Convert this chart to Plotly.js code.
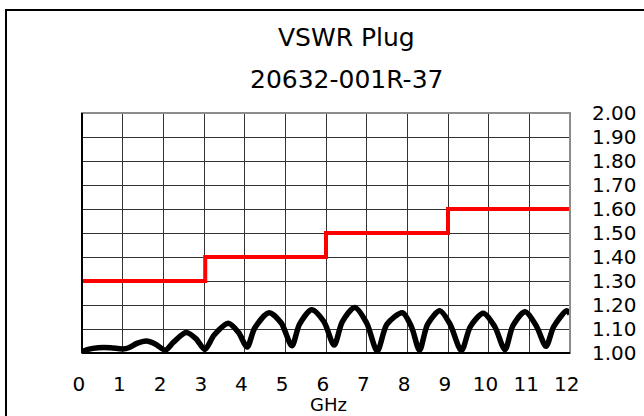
<!DOCTYPE html>
<html>
<head>
<meta charset="utf-8">
<script src="https://cdn.plot.ly/plotly-3.0.1.min.js"></script>
<style>
  html, body { margin: 0; padding: 0; background: #ffffff; width: 644px; height: 416px; overflow: hidden; }
  #frame { position: absolute; left: 5px; top: 9px; width: 700px; height: 500px;
           border-top: 2px solid #000; border-left: 2px solid #000; }
  #chart { position: absolute; left: 0; top: 0; width: 644px; height: 416px; }
</style>
</head>
<body>
<div id="frame"></div>
<div id="chart"></div>
<script>
// Title texts
const titleLine1 = "VSWR Plug";
const titleLine2 = "20632-001R-37";
const xAxisLabel = "GHz";

// Axis ticks
const xTickValues = [0, 1, 2, 3, 4, 5, 6, 7, 8, 9, 10, 11, 12];
const yTickValues = [1.0, 1.1, 1.2, 1.3, 1.4, 1.5, 1.6, 1.7, 1.8, 1.9, 2.0];

// Specification limit (red step line)
const limitFreq = [0, 3.03, 6.0, 9.0, 12];
const limitVSWR = [1.30, 1.40, 1.50, 1.60, 1.60];

// Measured VSWR (black curve)
const measFreq = [0.00, 0.15, 0.40, 0.70, 1.00, 1.15, 1.35, 1.58, 1.80, 2.05,
                  2.25, 2.56, 2.80, 3.02, 3.25, 3.60, 3.85, 4.06, 4.25, 4.60,
                  4.90, 5.16, 5.35, 5.65, 5.95, 6.20, 6.40, 6.71, 7.00, 7.26,
                  7.50, 7.88, 8.10, 8.30, 8.50, 8.80, 9.05, 9.33, 9.55, 9.87,
                  10.15, 10.40, 10.60, 10.90, 11.18, 11.41, 11.60, 11.92, 12.00];
const measVSWR = [1.005, 1.015, 1.022, 1.022, 1.017, 1.022, 1.040, 1.050, 1.038, 1.012,
                  1.045, 1.085, 1.060, 1.015, 1.075, 1.124, 1.085, 1.025, 1.105, 1.168,
                  1.125, 1.030, 1.120, 1.180, 1.130, 1.033, 1.130, 1.190, 1.125, 1.008,
                  1.120, 1.168, 1.110, 1.012, 1.120, 1.176, 1.120, 1.010, 1.110, 1.166,
                  1.110, 1.014, 1.115, 1.172, 1.110, 1.028, 1.110, 1.176, 1.162];

const FONT = "DejaVu Sans, Verdana, sans-serif";

const traces = [
  {
    x: limitFreq, y: limitVSWR, type: "scatter", mode: "lines",
    line: { color: "#ff0000", width: 4, shape: "hv" },
    hoverinfo: "skip", cliponaxis: false
  },
  {
    x: measFreq, y: measVSWR, type: "scatter", mode: "lines",
    line: { color: "#000000", width: 5.5, shape: "spline", smoothing: 0.8 },
    hoverinfo: "skip", cliponaxis: false
  }
];

const layout = {
  width: 644, height: 416,
  margin: { l: 82, r: 74, t: 113, b: 63, pad: 0 },
  paper_bgcolor: "rgba(0,0,0,0)",
  plot_bgcolor: "#ffffff",
  showlegend: false,
  font: { family: FONT, size: 20, color: "#000000" },
  xaxis: {
    range: [0, 12], tickvals: xTickValues,
    ticktext: xTickValues.map(v => String(v) + "\u00a0"),
    showgrid: true, gridcolor: "#333333", gridwidth: 1,
    zeroline: false, showline: false, ticks: "",
    ticklabelstandoff: 17,
    tickfont: { family: FONT, size: 20, color: "#000" }
  },
  yaxis: {
    range: [1, 2], side: "right", tickvals: yTickValues,
    ticktext: yTickValues.map(v => v.toFixed(2)),
    showgrid: true, gridcolor: "#333333", gridwidth: 1,
    zeroline: false, showline: false, ticks: "",
    ticklabelstandoff: 21,
    tickfont: { family: FONT, size: 20, color: "#000" }
  },
  shapes: [
    { type: "rect", xref: "paper", yref: "paper", x0: 0, x1: 1, y0: 0, y1: 1,
      line: { color: "#8c8c8c", width: 2 }, layer: "above" },
    { type: "line", xref: "paper", yref: "paper", x0: 0, x1: 0, y0: 0, y1: 1,
      line: { color: "#000000", width: 2 }, layer: "above" },
    { type: "line", xref: "paper", yref: "paper", x0: 0, x1: 1, y0: 0, y1: 0,
      line: { color: "#000000", width: 2 }, layer: "above" }
  ],
  annotations: [
    { text: titleLine1, xref: "paper", yref: "paper", x: 0.541, y: 1.3146,
      xanchor: "center", yanchor: "middle", showarrow: false,
      font: { family: FONT, size: 25, color: "#000" } },
    { text: titleLine2, xref: "paper", yref: "paper", x: 0.541, y: 1.1396,
      xanchor: "center", yanchor: "middle", showarrow: false,
      font: { family: FONT, size: 25, color: "#000" } },
    { text: xAxisLabel, xref: "paper", yref: "paper", x: 0.505, y: -0.2135,
      xanchor: "center", yanchor: "middle", showarrow: false, borderpad: 0,
      font: { family: FONT, size: 18, color: "#000" } }
  ]
};

Plotly.newPlot("chart", traces, layout, { staticPlot: true, displayModeBar: false });
</script>
</body>
</html>
